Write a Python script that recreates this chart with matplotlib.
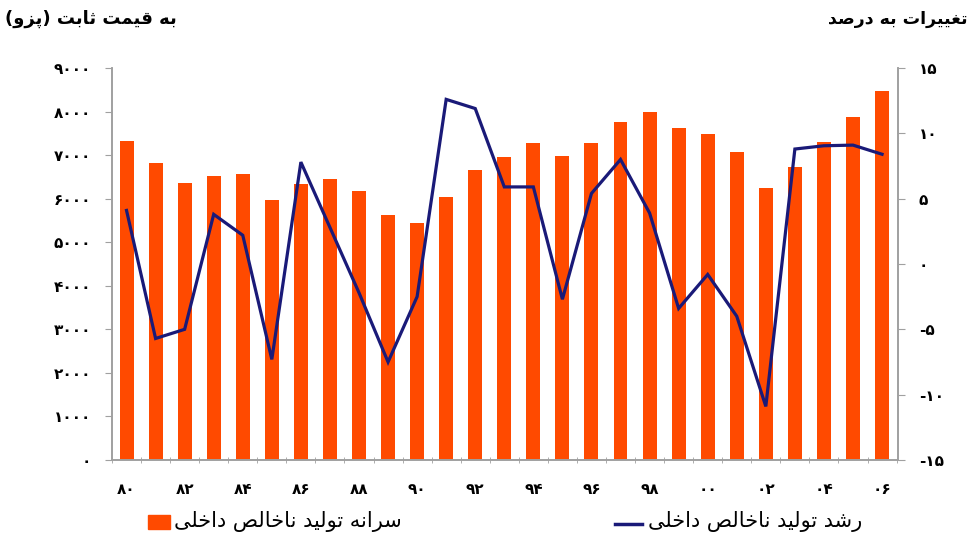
import numpy as np
import matplotlib.pyplot as plt

# years 1980..2006 (two-digit labels)
years = list(range(1980, 2007))
gdp_per_capita = [7330, 6810, 6370, 6530, 6570, 5970, 6340, 6450, 6180, 5620,
                  5430, 6040, 6660, 6960, 7270, 6980, 7270, 7770, 7980, 7630,
                  7480, 7080, 6250, 6730, 7310, 7880, 8480]
gdp_growth = [4.1, -5.7, -5.0, 3.8, 2.2, -7.3, 7.8, 2.8, -2.2, -7.5,
              -2.5, 12.6, 11.9, 5.9, 5.9, -2.7, 5.4, 8.0, 3.9, -3.4,
              -0.8, -4.0, -10.9, 8.8, 9.05, 9.1, 8.4]

left_title = "به قیمت ثابت (پزو)"
right_title = "تغییرات به درصد"
bar_label = "سرانه تولید ناخالص داخلی"
line_label = "رشد تولید ناخالص داخلی"

# minimal arabic/persian shaping (matplotlib does no shaping itself)
# letter: (isolated, final, initial, medial)
FORMS = {
    'ا': ('\uFE8D', '\uFE8E', None, None),
    'ب': ('\uFE8F', '\uFE90', '\uFE91', '\uFE92'),
    'پ': ('\uFB56', '\uFB57', '\uFB58', '\uFB59'),
    'ت': ('\uFE95', '\uFE96', '\uFE97', '\uFE98'),
    'ث': ('\uFE99', '\uFE9A', '\uFE9B', '\uFE9C'),
    'خ': ('\uFEA5', '\uFEA6', '\uFEA7', '\uFEA8'),
    'د': ('\uFEA9', '\uFEAA', None, None),
    'ر': ('\uFEAD', '\uFEAE', None, None),
    'ز': ('\uFEAF', '\uFEB0', None, None),
    'س': ('\uFEB1', '\uFEB2', '\uFEB3', '\uFEB4'),
    'ش': ('\uFEB5', '\uFEB6', '\uFEB7', '\uFEB8'),
    'ص': ('\uFEB9', '\uFEBA', '\uFEBB', '\uFEBC'),
    'غ': ('\uFECD', '\uFECE', '\uFECF', '\uFED0'),
    'ق': ('\uFED5', '\uFED6', '\uFED7', '\uFED8'),
    'ل': ('\uFEDD', '\uFEDE', '\uFEDF', '\uFEE0'),
    'م': ('\uFEE1', '\uFEE2', '\uFEE3', '\uFEE4'),
    'ن': ('\uFEE5', '\uFEE6', '\uFEE7', '\uFEE8'),
    'ه': ('\uFEE9', '\uFEEA', '\uFEEB', '\uFEEC'),
    'و': ('\uFEED', '\uFEEE', None, None),
    'ی': ('\uFBFC', '\uFBFD', '\uFBFE', '\uFBFF'),
}
MIRROR = {'(': ')', ')': '('}


def shape(text):
    out = []
    n = len(text)
    for i, ch in enumerate(text):
        if ch not in FORMS:
            out.append(ch)
            continue
        f = FORMS[ch]
        prev = text[i - 1] if i > 0 else ''
        nxt = text[i + 1] if i < n - 1 else ''
        join_prev = prev in FORMS and FORMS[prev][2] is not None
        join_next = nxt in FORMS and f[2] is not None
        if join_prev and join_next:
            out.append(f[3])
        elif join_prev:
            out.append(f[1])
        elif join_next:
            out.append(f[2])
        else:
            out.append(f[0])
    return ''.join(MIRROR.get(c, c) for c in reversed(out))


FA = str.maketrans('0123456789', '۰۱۲۳۴۵۶۷۸۹')


def fa(s):
    return str(s).translate(FA)


plt.rcParams['font.family'] = ['DejaVu Sans']

bar_color = '#ff4a00'
line_color = '#1a1a78'
spine_color = '#a0a0a0'

fig = plt.figure(figsize=(9.79, 5.39), dpi=100)
ax = fig.add_axes([0.1144, 0.1466, 0.8029, 0.7272])
ax2 = ax.twinx()

x = np.arange(len(years))
ax.bar(x, gdp_per_capita, width=0.48, color=bar_color, zorder=2)
ax2.plot(x, gdp_growth, color=line_color, lw=2.3, zorder=3,
         solid_joinstyle='miter')

ax.set_xlim(-0.48, len(years) - 0.45)
ax.set_ylim(0, 9000)
ax2.set_ylim(-15, 15)

ax.set_yticks(range(0, 9001, 1000))
ax.set_yticklabels([fa(v) for v in range(0, 9001, 1000)],
                   fontsize=11, fontweight='bold')
ax2.set_yticks(range(-15, 16, 5))
ax2.set_yticklabels([('-' + fa(-v)) if v < 0 else fa(v) for v in range(-15, 16, 5)],
                    fontsize=11, fontweight='bold')

ax.set_xticks(x[::2])
ax.set_xticklabels([fa(f'{y % 100:02d}') for y in years[::2]],
                   fontsize=11, fontweight='bold')
ax.set_xticks(np.arange(-0.5, len(years), 1), minor=True)
ax.tick_params(axis='x', which='major', length=0, pad=16)
ax.tick_params(axis='x', which='minor', length=4, color=spine_color,
               direction='inout')
ax.tick_params(axis='y', length=5, color=spine_color, pad=10)
ax2.tick_params(axis='y', length=5, color=spine_color, pad=10)

for a in (ax, ax2):
    a.spines['top'].set_visible(False)
    for s in ('left', 'right', 'bottom'):
        a.spines[s].set_color(spine_color)
        a.spines[s].set_linewidth(1.2)

fig.text(0.005, 0.965, shape(left_title), fontsize=13, fontweight='bold',
         ha='left', va='center')
fig.text(0.988, 0.965, shape(right_title), fontsize=12.5, fontweight='bold',
         ha='right', va='center')

# legend entries drawn below the axis
fig.patches.append(plt.Rectangle((0.151, 0.018), 0.023, 0.027, color=bar_color,
                                 transform=fig.transFigure, figure=fig))
fig.text(0.178, 0.032, shape(bar_label), fontsize=15, ha='left', va='center')
fig.lines.append(plt.Line2D([0.628, 0.656], [0.027, 0.027], color=line_color,
                            lw=2.5, transform=fig.transFigure, figure=fig))
fig.text(0.662, 0.032, shape(line_label), fontsize=15, ha='left', va='center')

fig.savefig('out.png', dpi=100)
